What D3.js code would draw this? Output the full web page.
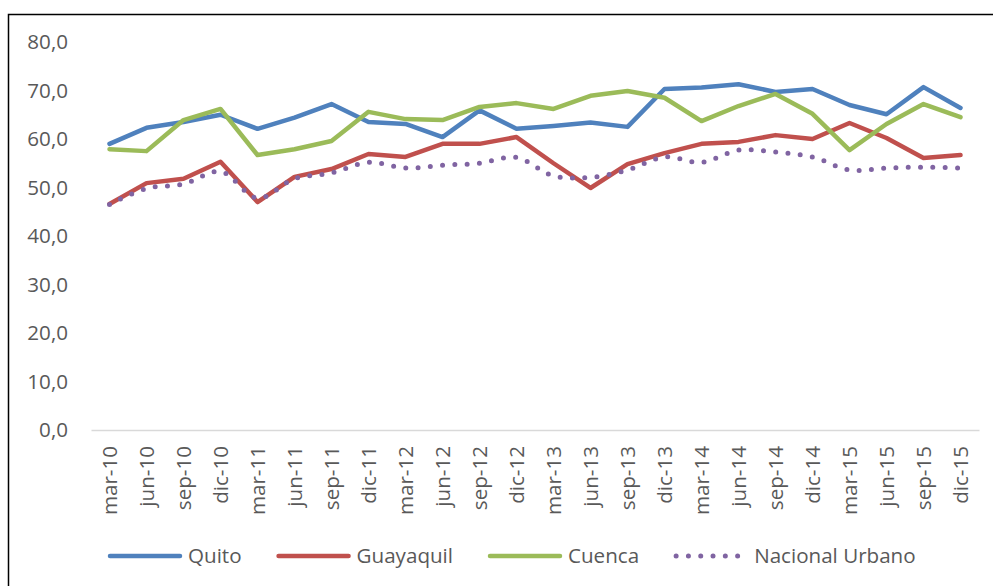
<!DOCTYPE html>
<html lang="es">
<head>
    <meta charset="UTF-8">
    <title>Quito, Guayaquil, Cuenca, Nacional Urbano</title>
    <script src="https://cdn.jsdelivr.net/npm/d3@7/dist/d3.min.js"></script>
    <style>
        body { margin: 0; background: #fff; }
        text { font-family: "Open Sans", sans-serif; fill: #595959; }
    </style>
</head>
<body>
<svg id="main-svg" width="993" height="586" xmlns="http://www.w3.org/2000/svg"></svg>

<script>
    'use strict';
    // trimestres
    const categories = ['mar-10', 'jun-10', 'sep-10', 'dic-10', 'mar-11', 'jun-11', 'sep-11', 'dic-11',
        'mar-12', 'jun-12', 'sep-12', 'dic-12', 'mar-13', 'jun-13', 'sep-13', 'dic-13',
        'mar-14', 'jun-14', 'sep-14', 'dic-14', 'mar-15', 'jun-15', 'sep-15', 'dic-15'];

    const quito = [59.0, 62.3, 63.5, 65.0, 62.1, 64.4, 67.2, 63.5, 63.1, 60.4, 65.9, 62.1,
        62.7, 63.4, 62.5, 70.3, 70.6, 71.3, 69.7, 70.3, 67.0, 65.1, 70.7, 66.4];
    const guayaquil = [46.6, 50.9, 51.8, 55.3, 47.0, 52.2, 53.8, 56.9, 56.3, 59.0, 59.0, 60.4,
        55.0, 49.9, 54.8, 57.1, 59.0, 59.4, 60.8, 60.0, 63.3, 60.2, 56.1, 56.7];
    const cuenca = [57.9, 57.5, 63.9, 66.2, 56.7, 57.9, 59.6, 65.6, 64.1, 63.9, 66.6, 67.4,
        66.2, 68.9, 69.9, 68.5, 63.7, 66.8, 69.3, 65.2, 57.7, 63.1, 67.2, 64.5];
    const nacionalUrbano = [46.5, 49.8, 50.7, 53.3, 47.8, 51.8, 53.0, 55.2, 54.0, 54.6, 55.0, 56.2,
        52.4, 52.1, 53.6, 56.3, 55.2, 57.7, 57.3, 56.3, 53.6, 54.0, 54.2, 54.0];

    const yTicks = [0, 10, 20, 30, 40, 50, 60, 70, 80];

    const series = [
        {name: 'Quito', values: quito, color: '#4F81BD', dotted: false},
        {name: 'Guayaquil', values: guayaquil, color: '#C0504D', dotted: false},
        {name: 'Cuenca', values: cuenca, color: '#9BBB59', dotted: false},
        {name: 'Nacional Urbano', values: nacionalUrbano, color: '#8064A2', dotted: true}
    ];

    const fontSize = 20.6;
    const svg = d3.select('#main-svg');

    // marco del gráfico (se sale por la derecha y por abajo)
    svg.append('rect')
        .attr('x', 8.5).attr('y', 14.5)
        .attr('width', 1000).attr('height', 600)
        .attr('fill', 'none')
        .attr('stroke', '#000')
        .attr('stroke-width', 1.5);

    const x = d3.scaleBand().domain(categories).range([91, 979]);
    const y = d3.scaleLinear().domain([0, 80]).range([430, 42]);
    const cx = d => x(d) + x.bandwidth() / 2;

    // eje Y
    const yAxis = svg.append('g')
        .attr('transform', 'translate(91,0)')
        .call(d3.axisLeft(y).tickValues(yTicks).tickSize(0).tickPadding(23)
            .tickFormat(d => d.toFixed(1).replace('.', ',')));
    yAxis.select('.domain').remove();
    yAxis.selectAll('text').attr('font-size', fontSize).attr('font-family', null).style('fill', '#595959');

    // eje X
    const xAxis = svg.append('g')
        .attr('transform', 'translate(0,430)')
        .call(d3.axisBottom(x).tickSize(0));
    xAxis.select('.domain').attr('stroke', '#d9d9d9').attr('stroke-width', 1.5);
    xAxis.selectAll('text')
        .attr('font-size', fontSize)
        .attr('font-family', null)
        .style('fill', '#595959')
        .attr('text-anchor', 'end')
        .attr('transform', 'rotate(-90)')
        .attr('x', -16)
        .attr('y', 0)
        .attr('dy', '0.35em');

    // líneas
    series.forEach(s => {
        const line = d3.line()
            .x((v, i) => cx(categories[i]))
            .y(v => y(v))
            .curve(s.dotted ? d3.curveCatmullRom : d3.curveLinear);
        const path = svg.append('path')
            .datum(s.values)
            .attr('d', line)
            .attr('fill', 'none')
            .attr('stroke', s.color)
            .attr('stroke-linejoin', 'round')
            .attr('stroke-linecap', 'round');
        if (s.dotted) {
            path.attr('stroke-width', 5).attr('stroke-dasharray', '0 12.3');
        } else {
            path.attr('stroke-width', 4.5);
        }
    });

    // leyenda
    const legend = svg.append('g').attr('transform', 'translate(0,556)');
    let lx = 110;
    series.forEach(s => {
        const item = legend.append('g');
        item.append('line')
            .attr('x1', lx).attr('x2', lx + 70)
            .attr('y1', 0).attr('y2', 0)
            .attr('stroke', s.color)
            .attr('stroke-linecap', 'round')
            .attr('stroke-width', s.dotted ? 5 : 4.5)
            .attr('stroke-dasharray', s.dotted ? '0 12.3' : null);
        const t = item.append('text')
            .attr('x', lx + 78)
            .attr('y', 0)
            .attr('dy', '0.35em')
            .attr('font-size', fontSize)
            .text(s.name);
        lx = lx + 78 + t.node().getComputedTextLength() + 37;
    });
</script>
</body>
</html>
